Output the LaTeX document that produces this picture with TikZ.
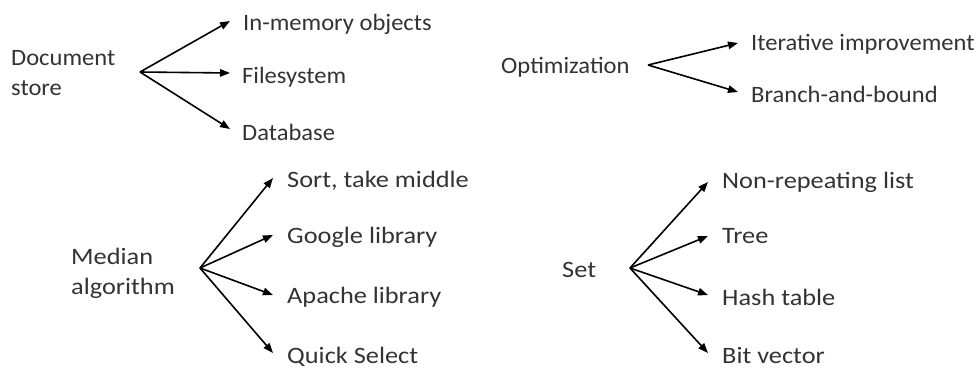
\documentclass[tikz,border=0pt]{standalone}
\usepackage{fontspec}
\setmainfont{Carlito}
\newfontfamily\upperfont[FakeStretch=1.045]{Carlito}
\newfontfamily\lowerfont[FakeStretch=1.12]{Carlito}
\usetikzlibrary{arrows.meta}
\definecolor{ink}{HTML}{333333}
\tikzset{
  txt/.style={inner sep=0pt, text=ink},
  up/.style={font=\upperfont\fontsize{23.5}{30}\selectfont},
  low/.style={font=\lowerfont\fontsize{23.5}{30}\selectfont},
  lbl/.style={txt, anchor=base west},
  root/.style={txt, anchor=north west, align=left},
  arr/.style={line width=1.6pt, draw=black,
    -{Triangle[length=10pt,width=7.5pt]}},
}
\begin{document}
\begin{tikzpicture}[x=1pt, y=-1pt]
  \useasboundingbox (0,0) rectangle (976,367);

  % Document store
  \node[root, up] (doc) at (11,50) {Document\\store};
  \coordinate (doc-hub) at (140,72);
  \node[lbl, up] (mem) at (243,30) {In-memory objects};
  \node[lbl, up] (fs) at (242,83) {Filesystem};
  \node[lbl, up] (db) at (242,140) {Database};
  \coordinate (doc-t1) at (230,21);
  \coordinate (doc-t2) at (230,73);
  \coordinate (doc-t3) at (230,129);
  \draw[arr] (doc-hub) -- (doc-t1);
  \draw[arr] (doc-hub) -- (doc-t2);
  \draw[arr] (doc-hub) -- (doc-t3);

  % Optimization
  \node[lbl, up] (opt) at (501,73) {Optimization};
  \coordinate (opt-hub) at (648,65);
  \node[lbl, up] (iter) at (751,50) {Iterative improvement};
  \node[lbl, up] (bnb) at (751,102) {Branch-and-bound};
  \coordinate (opt-t1) at (738,43);
  \coordinate (opt-t2) at (738,92);
  \draw[arr] (opt-hub) -- (opt-t1);
  \draw[arr] (opt-hub) -- (opt-t2);

  % Median algorithm
  \node[root, low] (med) at (71,248) {Median\\algorithm};
  \coordinate (med-hub) at (200,268);
  \node[lbl, low] (sort) at (287,187) {Sort, take middle};
  \node[lbl, low] (goog) at (287,243) {Google library};
  \node[lbl, low] (apache) at (287,303) {Apache library};
  \node[lbl, low] (quick) at (287,363) {Quick Select};
  \coordinate (med-t1) at (273,178);
  \coordinate (med-t2) at (273,235);
  \coordinate (med-t3) at (273,295);
  \coordinate (med-t4) at (273,353);
  \draw[arr] (med-hub) -- (med-t1);
  \draw[arr] (med-hub) -- (med-t2);
  \draw[arr] (med-hub) -- (med-t3);
  \draw[arr] (med-hub) -- (med-t4);

  % Set
  \node[lbl, low] (set) at (562,277) {Set};
  \coordinate (set-hub) at (630,268);
  \node[lbl, low] (nrl) at (722,188) {Non-repeating list};
  \node[lbl, low] (tree) at (722,243) {Tree};
  \node[lbl, low] (hash) at (722,305) {Hash table};
  \node[lbl, low] (bits) at (722,363) {Bit vector};
  \coordinate (set-t1) at (708,182);
  \coordinate (set-t2) at (708,236);
  \coordinate (set-t3) at (708,295);
  \coordinate (set-t4) at (708,353);
  \draw[arr] (set-hub) -- (set-t1);
  \draw[arr] (set-hub) -- (set-t2);
  \draw[arr] (set-hub) -- (set-t3);
  \draw[arr] (set-hub) -- (set-t4);
\end{tikzpicture}
\end{document}
